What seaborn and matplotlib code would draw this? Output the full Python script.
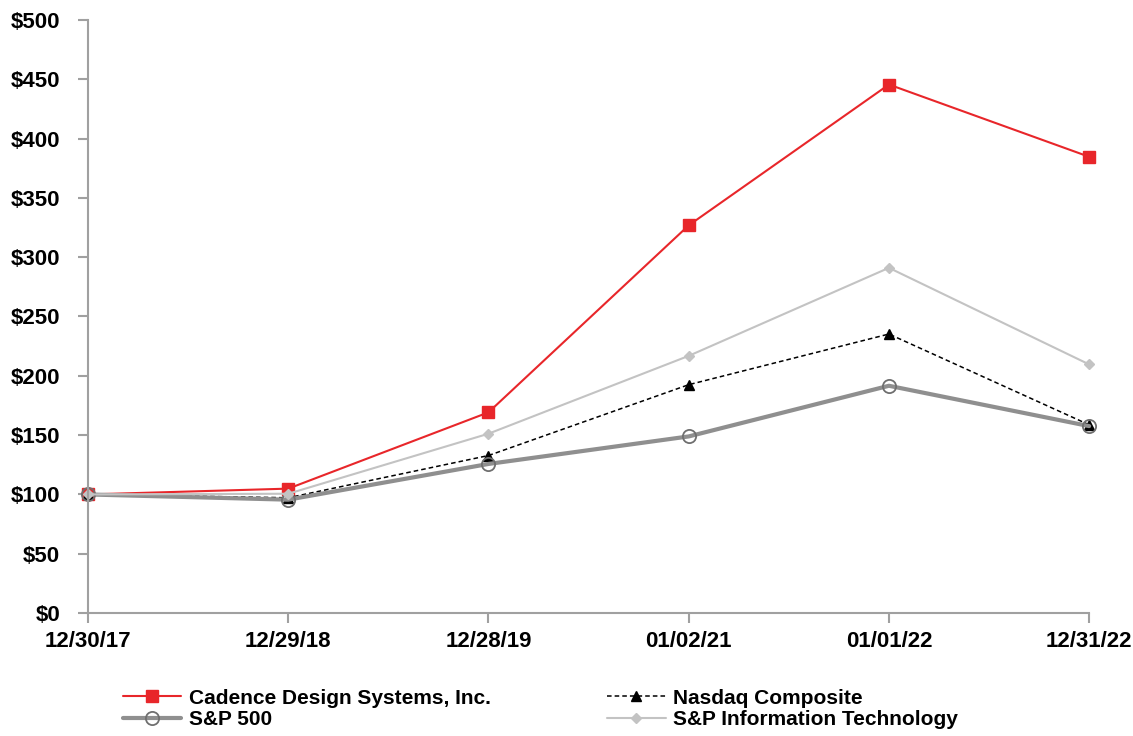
import pandas as pd
import matplotlib
matplotlib.use("Agg")
import matplotlib.pyplot as plt
import seaborn as sns

dates = ["12/30/17", "12/29/18", "12/28/19", "01/02/21", "01/01/22", "12/31/22"]
cadence = [100, 104.9, 169.2, 326.8, 445.5, 384.6]
nasdaq = [100, 97.2, 132.8, 192.5, 235.2, 158.7]
sp500 = [100, 95.6, 125.7, 148.9, 191.6, 157.6]
sp_it = [100, 100.6, 151.2, 216.8, 291.0, 209.6]
y_ticks = list(range(0, 501, 50))

sns.set_theme(style="white")
plt.rcParams["font.family"] = ["Liberation Sans", "DejaVu Sans"]
plt.rcParams["font.weight"] = "bold"
plt.rcParams["text.color"] = "black"

fig = plt.figure(figsize=(11.33, 7.36), dpi=100)
ax = fig.add_axes([0.0777, 0.167, 0.8836, 0.806])

series = [
    ("Cadence Design Systems, Inc.", cadence, dict(color="#e8262a", lw=1.5, marker="s", ms=8,
                                                   mfc="#e8262a", mec="#e8262a", ls="-")),
    ("Nasdaq Composite", nasdaq, dict(color="black", lw=1.1, marker="^", ms=7,
                                      mfc="black", mec="black", ls=(0, (3, 2)))),
    ("S&P 500", sp500, dict(color="#8f8f8f", lw=3, marker="o", ms=9.5, mfc="none",
                            mec="#6f6f6f", mew=1.3, ls="-")),
    ("S&P Information Technology", sp_it, dict(color="#c3c3c3", lw=1.5, marker="D", ms=5.5,
                                               mfc="#c3c3c3", mec="#c3c3c3", ls="-")),
]

handles = {}
for name, vals, kw in series:
    df = pd.DataFrame({"date": dates, "value": vals})
    sns.lineplot(data=df, x="date", y="value", ax=ax, color=kw["color"], lw=kw["lw"],
                 marker=kw["marker"], markersize=kw["ms"], markerfacecolor=kw["mfc"],
                 markeredgecolor=kw["mec"], markeredgewidth=kw.get("mew", 1),
                 linestyle=kw["ls"], label=name, clip_on=False)
    handles[name] = ax.lines[-1]

ax.set_xlim(0, len(dates) - 1)
ax.set_ylim(0, 500)
ax.set_yticks(y_ticks)
ax.set_yticklabels([f"${v}" for v in y_ticks])
ax.set_xlabel("")
ax.set_ylabel("")
for s in ["top", "right"]:
    ax.spines[s].set_visible(False)
for s in ["left", "bottom"]:
    ax.spines[s].set_color("#a0a0a0")
    ax.spines[s].set_linewidth(1.5)
ax.tick_params(axis="both", bottom=True, left=True, direction="out", length=7, width=1.5,
               color="#a0a0a0", labelsize=16, labelcolor="black")
ax.tick_params(axis="y", pad=13)
ax.tick_params(axis="x", pad=6)
for lab in ax.get_xticklabels() + ax.get_yticklabels():
    lab.set_fontweight("bold")

order = ["Cadence Design Systems, Inc.", "S&P 500", "Nasdaq Composite", "S&P Information Technology"]
ax.get_legend().remove()
leg = fig.legend([handles[n] for n in order], order, loc="center left",
                 bbox_to_anchor=(123 / 1133, 1 - 709 / 736), ncol=2, frameon=False,
                 prop={"size": 15, "weight": "bold"}, borderpad=0, borderaxespad=0,
                 handlelength=2.8, columnspacing=5.6, labelspacing=0.12, handletextpad=0.35)
for t in leg.get_texts():
    t.set_color("black")

fig.savefig("out.png", dpi=100)
